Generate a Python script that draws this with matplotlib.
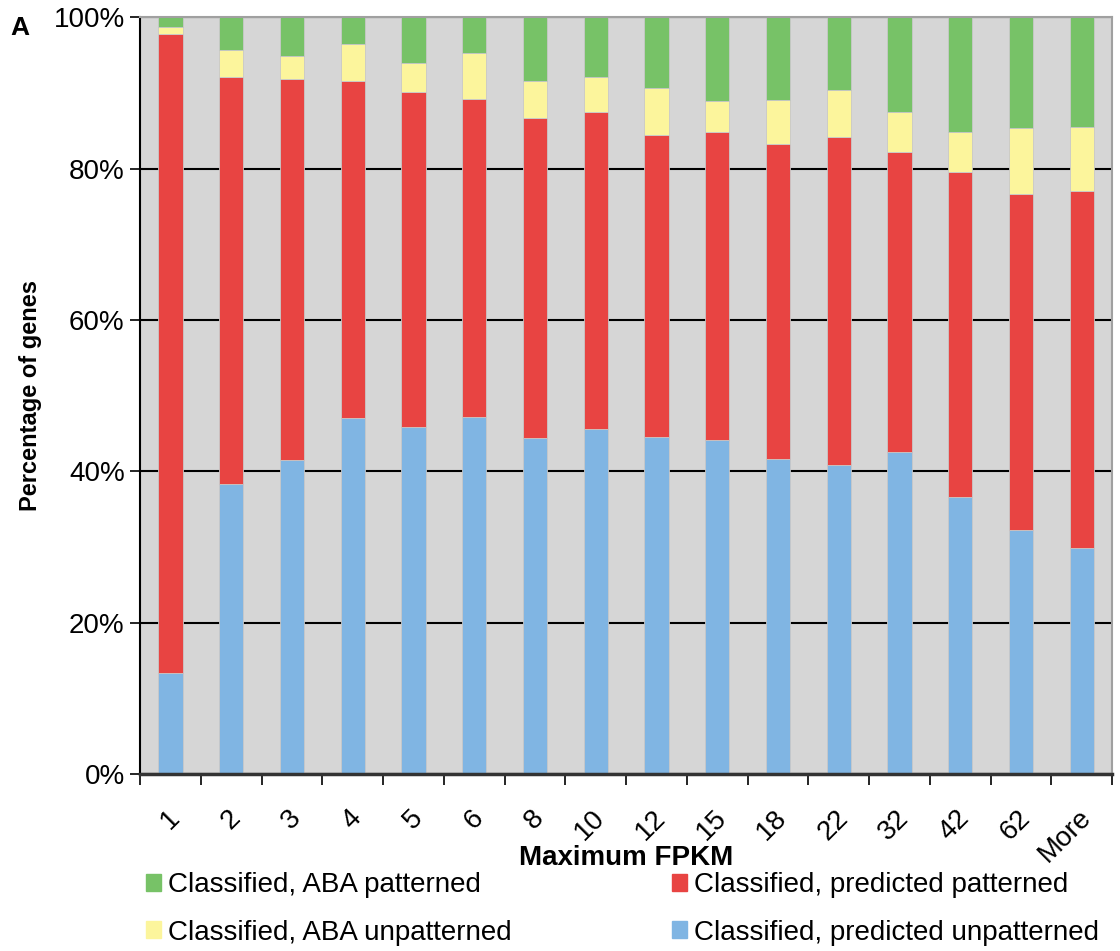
import numpy as np
import matplotlib.pyplot as plt
from matplotlib.patches import Patch
from matplotlib.transforms import ScaledTranslation

plt.rcParams['font.family'] = ['Liberation Sans', 'DejaVu Sans']

# Maximum FPKM bins
bins = ['1', '2', '3', '4', '5', '6', '8', '10', '12', '15', '18', '22',
        '32', '42', '62', 'More']

# Percentage of genes in each class, per bin (stack order bottom -> top)
pred_unpatterned = [13.3, 38.3, 41.5, 47.0, 45.8, 47.2, 44.4, 45.6, 44.5,
                    44.2, 41.6, 40.9, 42.5, 36.6, 32.3, 29.9]
pred_patterned = [84.5, 53.8, 50.3, 44.6, 44.3, 42.0, 42.3, 41.8, 39.9,
                  40.6, 41.6, 43.3, 39.7, 43.0, 44.3, 47.1]
aba_unpatterned = [0.9, 3.6, 3.0, 4.8, 3.8, 6.0, 4.8, 4.7, 6.2,
                   4.1, 5.8, 6.2, 5.3, 5.2, 8.8, 8.5]
aba_patterned = [1.3, 4.3, 5.2, 3.6, 6.1, 4.8, 8.5, 7.9, 9.4,
                 11.1, 11.0, 9.6, 12.5, 15.2, 14.6, 14.5]

c_green = '#77c267'
c_yellow = '#fcf59c'
c_red = '#e84442'
c_blue = '#80b5e3'

fig = plt.figure(figsize=(11.2, 9.51), dpi=100)
ax = fig.add_axes([0.125, 0.186, 0.868, 0.796])
ax.set_facecolor('#d6d6d6')
ax.set_axisbelow(True)

x = np.arange(len(bins))
w = 0.4
series = [(pred_unpatterned, c_blue), (pred_patterned, c_red),
          (aba_unpatterned, c_yellow), (aba_patterned, c_green)]
bottom = np.zeros(len(bins))
for vals, col in series:
    ax.bar(x, vals, w, bottom=bottom, color=col, edgecolor='#c8c8c8',
           linewidth=0.6, zorder=2)
    bottom += np.array(vals)

ax.set_xlim(-0.5, len(bins) - 0.5)
ax.set_ylim(0, 100)
ax.set_yticks(np.arange(0, 101, 20))
ax.set_yticklabels(['%d%%' % v for v in range(0, 101, 20)], fontsize=20)
ax.yaxis.grid(True, color='black', lw=1.5)
ax.tick_params(axis='y', length=7, width=1.2, pad=4)

# ticks sit between the categories, labels at the centres
ax.set_xticks(np.arange(-0.5, len(bins), 1.0))
ax.set_xticklabels([])
ax.set_xticks(x, minor=True)
ax.set_xticklabels(bins, minor=True, rotation=45, fontsize=20,
                   ha='right', va='top', rotation_mode='anchor')
ax.tick_params(axis='x', which='major', length=8, width=1.2)
ax.tick_params(axis='x', which='minor', length=0, pad=22)
# nudge the slanted labels a little to the left
shift = ScaledTranslation(-0.04, 0, fig.dpi_scale_trans)
for lbl in ax.get_xticklabels(minor=True):
    lbl.set_transform(lbl.get_transform() + shift)

for s in ('top', 'right'):
    ax.spines[s].set_color('#a0a0a0')
    ax.spines[s].set_linewidth(1.5)
ax.spines['left'].set_linewidth(1.5)
ax.spines['bottom'].set_linewidth(2.5)
ax.spines['bottom'].set_color('#333333')

ax.set_ylabel('Percentage of genes', fontsize=17, fontweight='bold', labelpad=8)
ax.set_xlabel('Maximum FPKM', fontsize=20, fontweight='bold', va='center')
ax.xaxis.set_label_coords(0.5, -0.111)

fig.text(0.009, 0.971, 'A', fontsize=19, fontweight='bold', va='center')

handles = [Patch(color=c_green, label='Classified, ABA patterned'),
           Patch(color=c_yellow, label='Classified, ABA unpatterned'),
           Patch(color=c_red, label='Classified, predicted patterned'),
           Patch(color=c_blue, label='Classified, predicted unpatterned')]
fig.legend(handles=handles, ncol=2, loc='lower left',
           bbox_to_anchor=(0.12, -0.006), frameon=False, fontsize=20,
           handlelength=0.55, handleheight=0.55, handletextpad=0.25,
           labelspacing=0.76, columnspacing=5.78, borderaxespad=0)

fig.savefig('out.png', dpi=100)
